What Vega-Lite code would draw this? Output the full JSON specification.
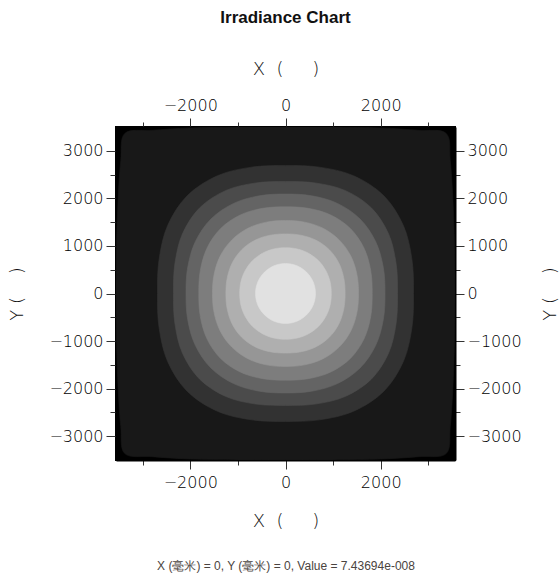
{
  "$schema": "https://vega.github.io/schema/vega-lite/v6.json",
  "autosize": {"type": "none"},
  "width": 339,
  "height": 333,
  "padding": {"left": 116, "top": 127, "right": 105, "bottom": 117},
  "background": "#ffffff",
  "title": {"text": "Irradiance Chart", "font": "Liberation Sans", "fontSize": 17, "fontWeight": "bold", "color": "#111111", "offset": 33},
  "datasets": {
    "edge": [
      {"k":1,"i":0,"x":3560,"y":0},{"k":1,"i":1,"x":3550,"y":1000},{"k":1,"i":2,"x":3515,"y":2000},{"k":1,"i":3,"x":3460,"y":2800},{"k":1,"i":4,"x":3375,"y":3365},
      {"k":1,"i":5,"x":2800,"y":3430},{"k":1,"i":6,"x":2000,"y":3480},{"k":1,"i":7,"x":1000,"y":3500},{"k":1,"i":8,"x":0,"y":3510},
      {"k":1,"i":9,"x":-1000,"y":3500},{"k":1,"i":10,"x":-2000,"y":3480},{"k":1,"i":11,"x":-2800,"y":3430},{"k":1,"i":12,"x":-3375,"y":3365},
      {"k":1,"i":13,"x":-3460,"y":2800},{"k":1,"i":14,"x":-3515,"y":2000},{"k":1,"i":15,"x":-3550,"y":1000},{"k":1,"i":16,"x":-3560,"y":0},
      {"k":1,"i":17,"x":-3550,"y":-1000},{"k":1,"i":18,"x":-3515,"y":-2000},{"k":1,"i":19,"x":-3460,"y":-2800},{"k":1,"i":20,"x":-3375,"y":-3365},
      {"k":1,"i":21,"x":-2800,"y":-3430},{"k":1,"i":22,"x":-2000,"y":-3480},{"k":1,"i":23,"x":-1000,"y":-3500},{"k":1,"i":24,"x":0,"y":-3510},
      {"k":1,"i":25,"x":1000,"y":-3500},{"k":1,"i":26,"x":2000,"y":-3480},{"k":1,"i":27,"x":2800,"y":-3430},{"k":1,"i":28,"x":3375,"y":-3365},
      {"k":1,"i":29,"x":3460,"y":-2800},{"k":1,"i":30,"x":3515,"y":-2000},{"k":1,"i":31,"x":3550,"y":-1000}
    ],
    "bands": [
      {"k":2,"i":0,"x":2689,"y":0},{"k":2,"i":1,"x":2656,"y":712},{"k":2,"i":2,"x":2476,"y":1429},{"k":2,"i":3,"x":2060,"y":2060},{"k":2,"i":4,"x":1429,"y":2476},{"k":2,"i":5,"x":712,"y":2656},
      {"k":2,"i":6,"x":0,"y":2689},{"k":2,"i":7,"x":-712,"y":2656},{"k":2,"i":8,"x":-1429,"y":2476},{"k":2,"i":9,"x":-2060,"y":2060},{"k":2,"i":10,"x":-2476,"y":1429},{"k":2,"i":11,"x":-2656,"y":712},
      {"k":2,"i":12,"x":-2689,"y":0},{"k":2,"i":13,"x":-2656,"y":-712},{"k":2,"i":14,"x":-2476,"y":-1429},{"k":2,"i":15,"x":-2060,"y":-2060},{"k":2,"i":16,"x":-1429,"y":-2476},{"k":2,"i":17,"x":-712,"y":-2656},
      {"k":2,"i":18,"x":0,"y":-2689},{"k":2,"i":19,"x":712,"y":-2656},{"k":2,"i":20,"x":1429,"y":-2476},{"k":2,"i":21,"x":2060,"y":-2060},{"k":2,"i":22,"x":2476,"y":-1429},{"k":2,"i":23,"x":2656,"y":-712},

      {"k":3,"i":0,"x":2353,"y":0},{"k":3,"i":1,"x":2324,"y":623},{"k":3,"i":2,"x":2166,"y":1251},{"k":3,"i":3,"x":1802,"y":1802},{"k":3,"i":4,"x":1251,"y":2166},{"k":3,"i":5,"x":623,"y":2324},
      {"k":3,"i":6,"x":0,"y":2353},{"k":3,"i":7,"x":-623,"y":2324},{"k":3,"i":8,"x":-1251,"y":2166},{"k":3,"i":9,"x":-1802,"y":1802},{"k":3,"i":10,"x":-2166,"y":1251},{"k":3,"i":11,"x":-2324,"y":623},
      {"k":3,"i":12,"x":-2353,"y":0},{"k":3,"i":13,"x":-2324,"y":-623},{"k":3,"i":14,"x":-2166,"y":-1251},{"k":3,"i":15,"x":-1802,"y":-1802},{"k":3,"i":16,"x":-1251,"y":-2166},{"k":3,"i":17,"x":-623,"y":-2324},
      {"k":3,"i":18,"x":0,"y":-2353},{"k":3,"i":19,"x":623,"y":-2324},{"k":3,"i":20,"x":1251,"y":-2166},{"k":3,"i":21,"x":1802,"y":-1802},{"k":3,"i":22,"x":2166,"y":-1251},{"k":3,"i":23,"x":2324,"y":-623},

      {"k":4,"i":0,"x":2090,"y":0},{"k":4,"i":1,"x":2054,"y":550},{"k":4,"i":2,"x":1893,"y":1093},{"k":4,"i":3,"x":1566,"y":1566},{"k":4,"i":4,"x":1093,"y":1893},{"k":4,"i":5,"x":550,"y":2054},
      {"k":4,"i":6,"x":0,"y":2090},{"k":4,"i":7,"x":-550,"y":2054},{"k":4,"i":8,"x":-1093,"y":1893},{"k":4,"i":9,"x":-1566,"y":1566},{"k":4,"i":10,"x":-1893,"y":1093},{"k":4,"i":11,"x":-2054,"y":550},
      {"k":4,"i":12,"x":-2090,"y":0},{"k":4,"i":13,"x":-2054,"y":-550},{"k":4,"i":14,"x":-1893,"y":-1093},{"k":4,"i":15,"x":-1566,"y":-1566},{"k":4,"i":16,"x":-1093,"y":-1893},{"k":4,"i":17,"x":-550,"y":-2054},
      {"k":4,"i":18,"x":0,"y":-2090},{"k":4,"i":19,"x":550,"y":-2054},{"k":4,"i":20,"x":1093,"y":-1893},{"k":4,"i":21,"x":1566,"y":-1566},{"k":4,"i":22,"x":1893,"y":-1093},{"k":4,"i":23,"x":2054,"y":-550},

      {"k":5,"i":0,"x":1821,"y":0},{"k":5,"i":1,"x":1790,"y":480},{"k":5,"i":2,"x":1650,"y":952},{"k":5,"i":3,"x":1364,"y":1364},{"k":5,"i":4,"x":952,"y":1650},{"k":5,"i":5,"x":480,"y":1790},
      {"k":5,"i":6,"x":0,"y":1821},{"k":5,"i":7,"x":-480,"y":1790},{"k":5,"i":8,"x":-952,"y":1650},{"k":5,"i":9,"x":-1364,"y":1364},{"k":5,"i":10,"x":-1650,"y":952},{"k":5,"i":11,"x":-1790,"y":480},
      {"k":5,"i":12,"x":-1821,"y":0},{"k":5,"i":13,"x":-1790,"y":-480},{"k":5,"i":14,"x":-1650,"y":-952},{"k":5,"i":15,"x":-1364,"y":-1364},{"k":5,"i":16,"x":-952,"y":-1650},{"k":5,"i":17,"x":-480,"y":-1790},
      {"k":5,"i":18,"x":0,"y":-1821},{"k":5,"i":19,"x":480,"y":-1790},{"k":5,"i":20,"x":952,"y":-1650},{"k":5,"i":21,"x":1364,"y":-1364},{"k":5,"i":22,"x":1650,"y":-952},{"k":5,"i":23,"x":1790,"y":-480},

      {"k":6,"i":0,"x":1534,"y":0},{"k":6,"i":1,"x":1500,"y":402},{"k":6,"i":2,"x":1370,"y":791},{"k":6,"i":3,"x":1127,"y":1127},{"k":6,"i":4,"x":791,"y":1370},{"k":6,"i":5,"x":402,"y":1500},
      {"k":6,"i":6,"x":0,"y":1534},{"k":6,"i":7,"x":-402,"y":1500},{"k":6,"i":8,"x":-791,"y":1370},{"k":6,"i":9,"x":-1127,"y":1127},{"k":6,"i":10,"x":-1370,"y":791},{"k":6,"i":11,"x":-1500,"y":402},
      {"k":6,"i":12,"x":-1534,"y":0},{"k":6,"i":13,"x":-1500,"y":-402},{"k":6,"i":14,"x":-1370,"y":-791},{"k":6,"i":15,"x":-1127,"y":-1127},{"k":6,"i":16,"x":-791,"y":-1370},{"k":6,"i":17,"x":-402,"y":-1500},
      {"k":6,"i":18,"x":0,"y":-1534},{"k":6,"i":19,"x":402,"y":-1500},{"k":6,"i":20,"x":791,"y":-1370},{"k":6,"i":21,"x":1127,"y":-1127},{"k":6,"i":22,"x":1370,"y":-791},{"k":6,"i":23,"x":1500,"y":-402},

      {"k":7,"i":0,"x":1252,"y":0},{"k":7,"i":1,"x":1224,"y":328},{"k":7,"i":2,"x":1118,"y":645},{"k":7,"i":3,"x":920,"y":920},{"k":7,"i":4,"x":645,"y":1118},{"k":7,"i":5,"x":328,"y":1224},
      {"k":7,"i":6,"x":0,"y":1252},{"k":7,"i":7,"x":-328,"y":1224},{"k":7,"i":8,"x":-645,"y":1118},{"k":7,"i":9,"x":-920,"y":920},{"k":7,"i":10,"x":-1118,"y":645},{"k":7,"i":11,"x":-1224,"y":328},
      {"k":7,"i":12,"x":-1252,"y":0},{"k":7,"i":13,"x":-1224,"y":-328},{"k":7,"i":14,"x":-1118,"y":-645},{"k":7,"i":15,"x":-920,"y":-920},{"k":7,"i":16,"x":-645,"y":-1118},{"k":7,"i":17,"x":-328,"y":-1224},
      {"k":7,"i":18,"x":0,"y":-1252},{"k":7,"i":19,"x":328,"y":-1224},{"k":7,"i":20,"x":645,"y":-1118},{"k":7,"i":21,"x":920,"y":-920},{"k":7,"i":22,"x":1118,"y":-645},{"k":7,"i":23,"x":1224,"y":-328},

      {"k":8,"i":0,"x":962,"y":0},{"k":8,"i":1,"x":935,"y":250},{"k":8,"i":2,"x":844,"y":487},{"k":8,"i":3,"x":692,"y":692},{"k":8,"i":4,"x":487,"y":844},{"k":8,"i":5,"x":250,"y":935},
      {"k":8,"i":6,"x":0,"y":962},{"k":8,"i":7,"x":-250,"y":935},{"k":8,"i":8,"x":-487,"y":844},{"k":8,"i":9,"x":-692,"y":692},{"k":8,"i":10,"x":-844,"y":487},{"k":8,"i":11,"x":-935,"y":250},
      {"k":8,"i":12,"x":-962,"y":0},{"k":8,"i":13,"x":-935,"y":-250},{"k":8,"i":14,"x":-844,"y":-487},{"k":8,"i":15,"x":-692,"y":-692},{"k":8,"i":16,"x":-487,"y":-844},{"k":8,"i":17,"x":-250,"y":-935},
      {"k":8,"i":18,"x":0,"y":-962},{"k":8,"i":19,"x":250,"y":-935},{"k":8,"i":20,"x":487,"y":-844},{"k":8,"i":21,"x":692,"y":-692},{"k":8,"i":22,"x":844,"y":-487},{"k":8,"i":23,"x":935,"y":-250},

      {"k":9,"i":0,"x":630,"y":0},{"k":9,"i":1,"x":609,"y":163},{"k":9,"i":2,"x":546,"y":315},{"k":9,"i":3,"x":445,"y":445},{"k":9,"i":4,"x":315,"y":546},{"k":9,"i":5,"x":163,"y":609},
      {"k":9,"i":6,"x":0,"y":630},{"k":9,"i":7,"x":-163,"y":609},{"k":9,"i":8,"x":-315,"y":546},{"k":9,"i":9,"x":-445,"y":445},{"k":9,"i":10,"x":-546,"y":315},{"k":9,"i":11,"x":-609,"y":163},
      {"k":9,"i":12,"x":-630,"y":0},{"k":9,"i":13,"x":-609,"y":-163},{"k":9,"i":14,"x":-546,"y":-315},{"k":9,"i":15,"x":-445,"y":-445},{"k":9,"i":16,"x":-315,"y":-546},{"k":9,"i":17,"x":-163,"y":-609},
      {"k":9,"i":18,"x":0,"y":-630},{"k":9,"i":19,"x":163,"y":-609},{"k":9,"i":20,"x":315,"y":-546},{"k":9,"i":21,"x":445,"y":-445},{"k":9,"i":22,"x":546,"y":-315},{"k":9,"i":23,"x":609,"y":-163}
    ]
  },
  "layer": [
    {
      "data": {"name": "edge"},
      "mark": {"type": "line", "interpolate": "cardinal-closed", "clip": true, "strokeWidth": 0.6},
      "encoding": {
        "x": {"field": "x", "type": "quantitative", "scale": {"domain": [-3560, 3560], "nice": false, "zero": false},
              "axis": {"orient": "top", "values": [-3000,-2000,-1000,0,1000,2000,3000], "format": "d",
                       "labelExpr": "datum.value % 2000 === 0 ? datum.label : ''",
                       "tickSize": {"condition": {"test": "datum.value % 2000 === 0", "value": 9}, "value": 5},
                       "labelPadding": 5, "title": "X\u00a0\u00a0(\u00a0\u00a0\u00a0\u00a0\u00a0)", "titlePadding": 19}},
        "y": {"field": "y", "type": "quantitative", "scale": {"domain": [-3500, 3500], "nice": false, "zero": false},
              "axis": {"orient": "right", "values": [-3000,-2500,-2000,-1500,-1000,-500,0,500,1000,1500,2000,2500,3000], "format": "d",
                       "labelExpr": "datum.value % 1000 === 0 ? datum.label : ''",
                       "tickSize": {"condition": {"test": "datum.value % 1000 === 0", "value": 9}, "value": 5},
                       "labelPadding": 3, "title": "Y\u00a0(\u00a0\u00a0\u00a0\u00a0)", "titleAngle": 270, "titleBaseline": "top", "titlePadding": 20}},
        "order": {"field": "i", "type": "quantitative"},
        "fill": {"field": "k", "type": "ordinal", "scale": {"domain": [1,2,3,4,5,6,7,8,9], "range": ["#181818","#323232","#4b4b4b","#646464","#7d7d7d","#969696","#afafaf","#c8c8c8","#e1e1e1"]}, "legend": null},
        "stroke": {"field": "k", "type": "ordinal", "scale": {"domain": [1,2,3,4,5,6,7,8,9], "range": ["#181818","#323232","#4b4b4b","#646464","#7d7d7d","#969696","#afafaf","#c8c8c8","#e1e1e1"]}, "legend": null}
      }
    },
    {
      "data": {"name": "bands"},
      "transform": [{"filter": "datum.k <= 5"}],
      "mark": {"type": "line", "interpolate": "cardinal-closed", "clip": true, "strokeWidth": 0.6},
      "encoding": {
        "x": {"field": "x", "type": "quantitative", "scale": {"domain": [-3560, 3560], "nice": false, "zero": false},
              "axis": {"orient": "bottom", "values": [-3000,-2000,-1000,0,1000,2000,3000], "format": "d",
                       "labelExpr": "datum.value % 2000 === 0 ? datum.label : ''",
                       "tickSize": {"condition": {"test": "datum.value % 2000 === 0", "value": 9}, "value": 5},
                       "labelPadding": 5, "title": "X\u00a0\u00a0(\u00a0\u00a0\u00a0\u00a0\u00a0)", "titlePadding": 22}},
        "y": {"field": "y", "type": "quantitative", "scale": {"domain": [-3500, 3500], "nice": false, "zero": false},
              "axis": {"orient": "left", "values": [-3000,-2500,-2000,-1500,-1000,-500,0,500,1000,1500,2000,2500,3000], "format": "d",
                       "labelExpr": "datum.value % 1000 === 0 ? datum.label : ''",
                       "tickSize": {"condition": {"test": "datum.value % 1000 === 0", "value": 10}, "value": 6},
                       "labelPadding": 3, "title": "Y\u00a0(\u00a0\u00a0\u00a0\u00a0)", "titlePadding": 22}},
        "order": {"field": "i", "type": "quantitative"},
        "fill": {"field": "k", "type": "ordinal", "legend": null},
        "stroke": {"field": "k", "type": "ordinal", "legend": null}
      }
    },
    {
      "data": {"name": "bands"},
      "transform": [{"filter": "datum.k > 5"}],
      "mark": {"type": "line", "interpolate": "cardinal-closed", "clip": true, "strokeWidth": 0.6},
      "encoding": {
        "x": {"field": "x", "type": "quantitative", "scale": {"domain": [-3560, 3560], "nice": false, "zero": false},
              "axis": {"orient": "bottom", "labels": false, "ticks": false, "domain": false,
                       "title": "X (毫米) = 0, Y (毫米) = 0, Value = 7.43694e-008",
                       "titleFont": "Liberation Sans", "titleFontSize": 12, "titleFontWeight": "normal", "titleColor": "#4a4440", "titlePadding": 100}},
        "y": {"field": "y", "type": "quantitative", "scale": {"domain": [-3500, 3500], "nice": false, "zero": false}, "axis": null},
        "order": {"field": "i", "type": "quantitative"},
        "fill": {"field": "k", "type": "ordinal", "legend": null},
        "stroke": {"field": "k", "type": "ordinal", "legend": null}
      }
    }
  ],
  "resolve": {"axis": {"x": "independent", "y": "independent"}},
  "config": {
    "view": {"fill": "#000000", "stroke": "#000000", "strokeWidth": 2},
    "axis": {
      "grid": false,
      "domainColor": "#000000",
      "domainWidth": 2,
      "tickColor": "#333333",
      "tickWidth": 1,
      "labelFont": "DejaVu Sans",
      "labelFontSize": 16,
      "labelFontWeight": 200,
      "labelColor": "#000000",
      "labelFlush": false,
      "labelOverlap": false,
      "labelBound": false,
      "titleFont": "DejaVu Sans",
      "titleFontSize": 18,
      "titleFontWeight": 200,
      "titleColor": "#111111"
    }
  }
}
